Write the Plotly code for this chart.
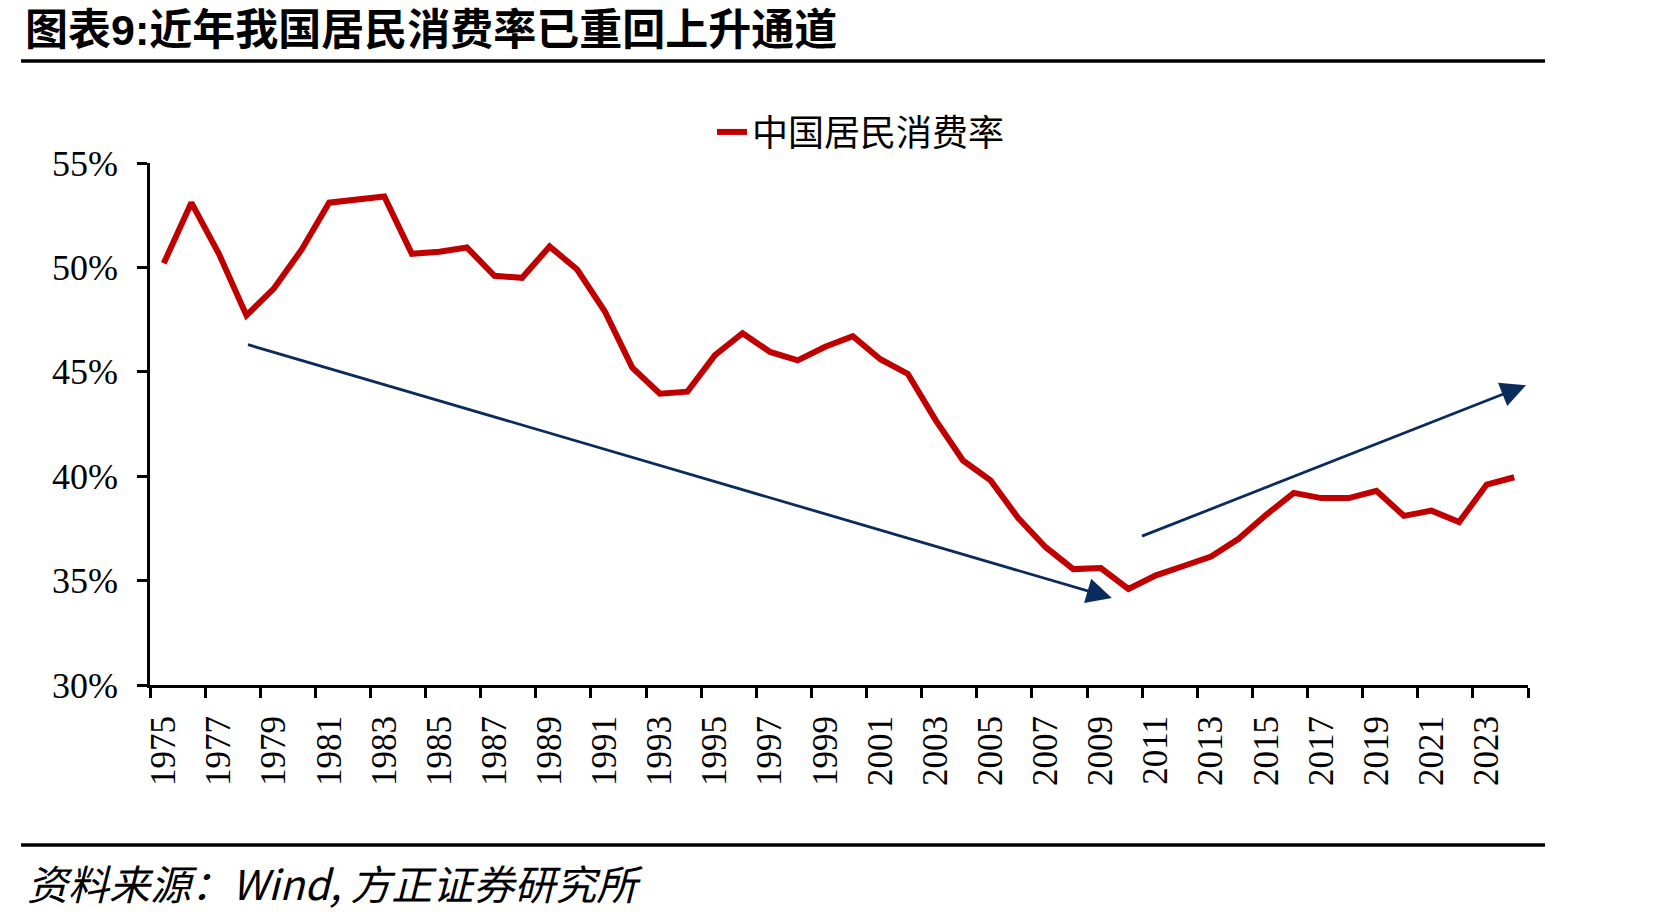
import plotly.graph_objects as go

# ---------------- data ----------------
years = list(range(1975, 2025))
consumption_rate = [
    50.2, 53.1, 50.65, 47.7, 49.0, 50.85, 53.1, 53.25, 53.4, 50.65,
    50.75, 50.95, 49.6, 49.5, 51.0, 49.9, 47.9, 45.2, 43.95, 44.05,
    45.8, 46.85, 45.95, 45.55, 46.2, 46.7, 45.6, 44.9, 42.7, 40.75,
    39.8, 38.0, 36.6, 35.55, 35.6, 34.6, 35.25, 35.7, 36.15, 37.0,
    38.15, 39.2, 38.95, 38.95, 39.3, 38.1, 38.35, 37.8, 39.6, 39.95,
]
series_name = "中国居民消费率"
tick_years = years[::2]
tick_labels = [str(y) for y in tick_years]
y_ticks = [30, 35, 40, 45, 50, 55]
# trend arrows: (tail_x, tail_y, head_x, head_y) in data units
down_arrow = (1978.0, 46.32, 2009.4, 34.17)
up_arrow = (2010.44, 37.1, 2024.43, 44.36)

title_text = "图表9:近年我国居民消费率已重回上升通道"
source_text = "资料来源：Wind, 方正证券研究所"

# ---------------- layout helpers ----------------
W, H = 1671, 915
L, R, T, B = 150, 1528, 162.7, 685


def px_x(p):
    return (p - L) / (R - L)


def px_y(p):
    return (B - p) / (B - T)


SERIF = "Liberation Serif, Times New Roman, serif"
CJK = "Noto Sans CJK SC"
NAVY = "#0A2C5C"

fig = go.Figure()
fig.add_trace(go.Scatter(
    x=years, y=consumption_rate, mode="lines", name=series_name,
    line=dict(color="#C00000", width=6),
))

for tx, ty, hx, hy in (down_arrow, up_arrow):
    fig.add_annotation(
        x=hx, y=hy, ax=tx, ay=ty, xref="x", yref="y", axref="x", ayref="y",
        text="", showarrow=True, arrowhead=2, arrowsize=1.8, arrowwidth=2.8,
        arrowcolor=NAVY,
    )

fig.add_annotation(
    text=source_text, xref="paper", yref="paper", x=px_x(25), y=px_y(882),
    xanchor="left", yanchor="middle", showarrow=False,
    font=dict(family=CJK, size=41, color="black", style="italic"),
)

for yy in (60.7, 845):
    fig.add_shape(type="line", xref="paper", yref="paper",
                  x0=px_x(21), x1=px_x(1545), y0=px_y(yy), y1=px_y(yy),
                  line=dict(color="black", width=3.5))

fig.update_layout(
    width=W, height=H,
    margin=dict(l=L, r=W - R, t=T, b=H - B),
    paper_bgcolor="white", plot_bgcolor="white",
    title=dict(text=title_text, xref="container", yref="container",
               x=25 / W, xanchor="left", y=1 - 30 / H, yanchor="middle",
               font=dict(family="Liberation Sans, " + CJK, size=43,
                         color="black", weight="bold")),
    showlegend=True,
    legend=dict(orientation="h", x=px_x(712), xanchor="left",
                y=px_y(131.7), yanchor="middle",
                font=dict(family=CJK, size=36, color="black"),
                bgcolor="rgba(0,0,0,0)"),
    xaxis=dict(
        range=[years[0] - 0.5, years[-1] + 0.5],
        tickmode="array", tickvals=tick_years, ticktext=tick_labels,
        tickangle=-90, ticks="", showgrid=False, zeroline=False,
        showline=True, linecolor="black", linewidth=3,
        tickfont=dict(family=SERIF, size=35, color="black"),
        ticklabelstandoff=14,
        minor=dict(tickmode="array",
                   tickvals=[y - 0.5 for y in years[::2]] + [years[-1] + 0.5],
                   ticks="outside", ticklen=10, tickwidth=2.5,
                   tickcolor="black", showgrid=False),
    ),
    yaxis=dict(
        range=[30, 55], tickmode="array", tickvals=y_ticks,
        ticktext=[f"{v}%" for v in y_ticks],
        ticks="outside", ticklen=10, tickwidth=2.5, tickcolor="black",
        showgrid=False, zeroline=False,
        showline=True, linecolor="black", linewidth=2.5,
        tickfont=dict(family=SERIF, size=36, color="black"),
        ticklabelstandoff=12,
    ),
)

fig.write_html("out.html")
